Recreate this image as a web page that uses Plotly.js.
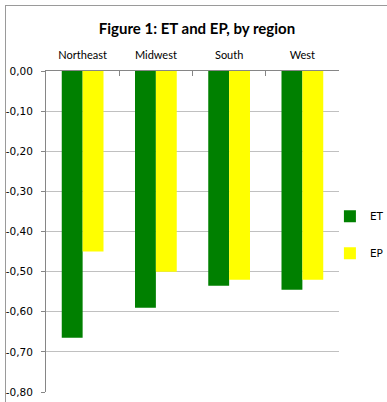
<!DOCTYPE html>
<html>
<head>
<meta charset="utf-8">
<script src="https://cdn.plot.ly/plotly-3.0.1.min.js"></script>
<style>
html, body { margin:0; padding:0; background:#fff; overflow:hidden; width:387px; height:402px; }
#frame { position:absolute; left:5px; top:5px; width:440px; height:440px; border:1px solid #9a9a9a; box-sizing:border-box; }
#chart { position:absolute; left:0; top:0; width:420px; height:402px; }
</style>
</head>
<body>
<div id="frame"></div>
<div id="chart"></div>
<script>
const regions = ["Northeast", "Midwest", "South", "West"];
const etValues = [-0.665, -0.59, -0.535, -0.545];
const epValues = [-0.45, -0.50, -0.52, -0.52];
const yTickVals = [0, -0.1, -0.2, -0.3, -0.4, -0.5, -0.6, -0.7, -0.8];
const yTickText = ["0,00", "-0,10", "-0,20", "-0,30", "-0,40", "-0,50", "-0,60", "-0,70", "-0,80"];

const traces = [
  { type: "bar", name: "ET", x: regions, y: etValues, marker: { color: "#008000" }, legendgroup: "et" },
  { type: "bar", name: "EP", x: regions, y: epValues, marker: { color: "#ffff00" }, legendgroup: "ep" }
];

const layout = {
  width: 420, height: 402,
  paper_bgcolor: "rgba(0,0,0,0)",
  plot_bgcolor: "rgba(0,0,0,0)",
  margin: { l: 46, r: 81, t: 71, b: 10, pad: 0 },
  barmode: "group",
  bargap: 0.43,
  bargroupgap: 0,
  title: {
    text: "<b>Figure 1: ET and EP, by region</b>",
    font: { family: "Lato, 'Open Sans', sans-serif", size: 15, color: "#000" },
    x: 0.469, xanchor: "center", y: 0.928, yanchor: "middle"
  },
  xaxis: {
    side: "top",
    type: "category",
    showline: true, linecolor: "#868686", linewidth: 1,
    ticks: "inside", ticklen: 5, tickcolor: "#868686",
    tickson: "boundaries",
    showgrid: false,
    tickfont: { family: "Lato, 'Open Sans', sans-serif", size: 11, color: "#000" },
    ticklabelstandoff: 7,
    fixedrange: true
  },
  yaxis: {
    range: [-0.8, 0],
    tickvals: yTickVals, ticktext: yTickText,
    showline: true, linecolor: "#868686", linewidth: 1,
    ticks: "outside", ticklen: 4, tickcolor: "#868686",
    showgrid: true, gridcolor: "#c0c0c0", gridwidth: 1,
    zeroline: false,
    tickfont: { family: "'DejaVu Sans', sans-serif", size: 10.5, color: "#000" },
    ticklabelstandoff: 6,
    fixedrange: true
  },
  showlegend: true,
  legend: {
    x: 0.969, xanchor: "left", y: 0.49, yanchor: "middle",
    tracegroupgap: 18,
    font: { family: "'DejaVu Sans', sans-serif", size: 10.5, color: "#000" },
    bgcolor: "rgba(0,0,0,0)"
  }
};

Plotly.newPlot("chart", traces, layout, { displayModeBar: false, staticPlot: true });
</script>
</body>
</html>
